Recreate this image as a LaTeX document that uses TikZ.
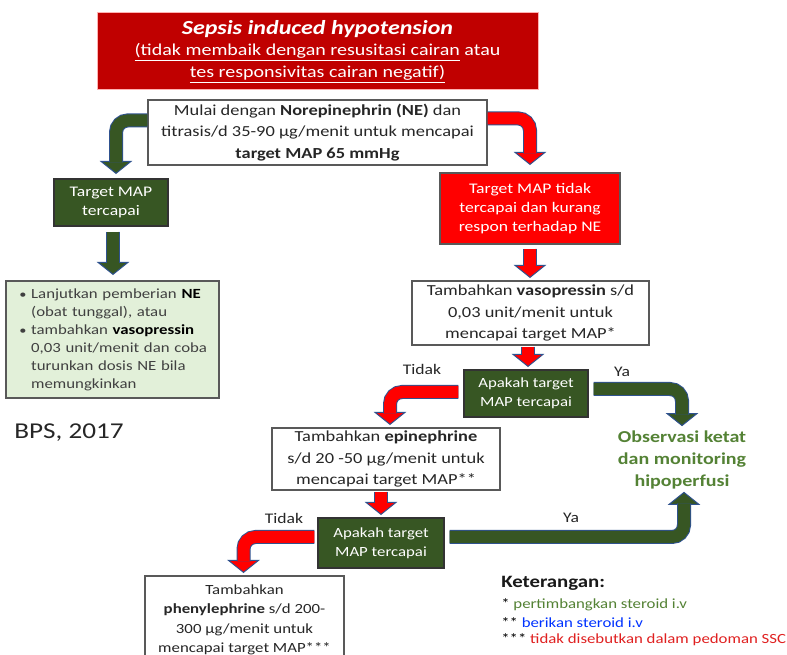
\documentclass[tikz,border=0pt]{standalone}
\usepackage{fontspec}
\setmainfont{Carlito}[FakeStretch=1.2]
\usepackage{xcolor}
\usepackage{tikz}
\usetikzlibrary{calc}
\definecolor{titlered}{RGB}{192,0,0}
\definecolor{darkgreen}{RGB}{55,86,35}
\definecolor{midgreen}{RGB}{84,130,53}
\definecolor{lightgreen}{RGB}{226,240,217}
\definecolor{brightred}{RGB}{255,0,0}
\definecolor{arrowedge}{RGB}{47,82,143}
\definecolor{boxedge}{RGB}{89,89,89}
\definecolor{notered}{RGB}{224,32,32}
\definecolor{noteblue}{RGB}{0,51,255}
\newcommand{\bul}{\hspace*{4pt}{\small\textbullet}\ }
\newcommand{\bulgap}{\hspace*{4pt}\phantom{{\small\textbullet}\ }}

\begin{document}
\begin{tikzpicture}[x=0.75pt,y=0.75pt,every node/.style={inner sep=0pt,align=center},
  whitebox/.style={draw=boxedge,line width=0.9pt,fill=white,text=black!85,font=\fontsize{11.5}{16}\selectfont},
  greenbox/.style={draw=black!80,line width=0.9pt,fill=darkgreen,text=white,font=\fontsize{11}{14}\selectfont},
  redbox/.style={draw=boxedge,line width=0.9pt,fill=brightred,text=white,font=\fontsize{11}{14}\selectfont},
  tag/.style={font=\fontsize{11}{13}\selectfont,text=black!85},
  note/.style={anchor=west,font=\fontsize{10.5}{13}\selectfont},
  gshaft/.style={line width=9pt,draw=darkgreen,rounded corners=9pt,preaction={draw=arrowedge,line width=10.5pt}},
  rshaft/.style={gshaft,draw=brightred},
  ghead/.style={fill=darkgreen,draw=arrowedge,line width=0.75pt},
  rhead/.style={fill=brightred,draw=arrowedge,line width=0.75pt},
  arrowhd/.pic={\filldraw[pic actions] (0,0)--(-15,12)--(15,12)--cycle;}]
\useasboundingbox (0,0) rectangle (787,655);
\fill[white] (0,0) rectangle (787,655);

\node[fill=titlered,draw=red!30,line width=0.75pt,text=white,font=\fontsize{12.5}{16}\selectfont,minimum width=330.75pt,minimum height=57.75pt](sepsis) at (317.5,603.5){{\fontsize{15}{16}\selectfont\bfseries\itshape Sepsis induced hypotension}\\\underline{(tidak membaik dengan resusitasi cairan} atau\\\underline{tes responsivitas cairan negatif)}};
\node[whitebox,minimum width=254.25pt,minimum height=48.75pt](ne) at (317.5,522.5){Mulai dengan \textbf{Norepinephrin (NE)} dan\\titrasis/d 35-90 µg/menit untuk mencapai\\\textbf{target MAP 65 mmHg}};
\node[greenbox,minimum width=85.5pt,minimum height=35.25pt](tmok) at (111,452.5){Target MAP\\tercapai};
\node[draw=boxedge,line width=0.9pt,fill=lightgreen,text=black!75,align=left,inner xsep=6pt,text width=147.75pt,minimum height=87.75pt,font=\fontsize{10.5}{13.5}\selectfont](lanjut) at (112.5,339.5-24){\bul Lanjutkan pemberian \textbf{\color{black}NE}\\\bulgap(obat tunggal), atau\\\bul tambahkan \textbf{\color{black}vasopressin}\\\bulgap 0,03 unit/menit dan coba\\\bulgap turunkan dosis NE bila\\\bulgap memungkinkan};
\node[anchor=west,text=black!85,font=\fontsize{17}{20}\selectfont](bps) at (14,222){BPS, 2017};
\node[redbox,minimum width=135pt,minimum height=53.25pt](tmno) at (530,446.5){Target MAP tidak\\tercapai dan kurang\\respon terhadap NE};
\node[whitebox,minimum width=177.75pt,minimum height=48pt](vaso) at (530.5,342){Tambahkan \textbf{vasopressin} s/d\\0,03 unit/menit untuk\\mencapai target MAP*};
\node[greenbox,font=\fontsize{10.5}{14}\selectfont,minimum width=93pt,minimum height=35.25pt](dec1) at (526,261.5){Apakah target\\MAP tercapai};
\node[whitebox,minimum width=171pt,minimum height=46.5pt](epi) at (386,196){Tambahkan \textbf{epinephrine}\\s/d 20 -50 µg/menit untuk\\mencapai target MAP**};
\node[text=midgreen,font=\fontsize{12.5}{16.5}\selectfont\bfseries](obs) at (682,195){Observasi ketat\\dan monitoring\\hipoperfusi};
\node[greenbox,font=\fontsize{10.5}{14}\selectfont,minimum width=94.5pt,minimum height=37.5pt](dec2) at (381,112){Apakah target\\MAP tercapai};
\node[whitebox,font=\fontsize{10.5}{14.5}\selectfont,minimum width=149.25pt,minimum height=66pt](phen) at (244.5,35){Tambahkan\\\textbf{phenylephrine} s/d 200-\\300 µg/menit untuk\\mencapai target MAP***};
\node[tag](tidak1) at (422,286){Tidak};
\node[tag](ya1) at (622,283){Ya};
\node[tag](tidak2) at (284,137){Tidak};
\node[tag](ya2) at (571,137){Ya};
\node[anchor=west,text=black!90,font=\fontsize{13}{16}\selectfont\bfseries](ket) at (501,72){Keterangan:};
\node[note](note1) at (501,50){* \textcolor{midgreen}{pertimbangkan steroid i.v}};
\node[note](note2) at (501,32){** \textcolor{noteblue}{berikan steroid i.v}};
\node[note](note3) at (501,15){*** \textcolor{notered}{tidak disebutkan dalam pedoman SSC}};

% arrows: heads first, shafts on top
\pic[ghead] at ($(tmok.north)+(5,5)$) {arrowhd};
\draw[gshaft] ($(ne.north west)+(0,-21)$) -| ($(tmok.north)+(5,16)$);
\pic[ghead] at ($(tmok.south |- lanjut.north)+(2,6)$) {arrowhd};
\draw[gshaft] ($(tmok.south)+(2,-5)$) -- ($(tmok.south |- lanjut.north)+(2,17)$);
\pic[rhead] at ($(tmno.north)+(0,8)$) {arrowhd};
\draw[rshaft] ($(ne.north east)+(0,-19)$) -| ($(tmno.north)+(0,19)$);
\pic[rhead] at ($(tmno.south |- vaso.north)+(0,3)$) {arrowhd};
\draw[rshaft] ($(tmno.south)+(0,-4)$) -- ($(tmno.south |- vaso.north)+(0,14)$);
\pic[rhead] at ($(dec1.north)+(2,3)$) {arrowhd};
\draw[rshaft] ($(vaso.south -| dec1.north)+(2,-1)$) -- ($(dec1.north)+(2,14)$);
\pic[rhead] at ($(epi.north)+(4,3)$) {arrowhd};
\draw[rshaft] ($(dec1.west)+(-5,1.5)$) -| ($(epi.north)+(4,14)$);
\pic[ghead] at ($(obs.north)+(0,5)$) {arrowhd};
\draw[gshaft] ($(dec1.east)+(5,4.5)$) -| ($(obs.north)+(0,16)$);
\pic[rhead] at ($(dec2.north)+(0,3)$) {arrowhd};
\draw[rshaft] ($(epi.south -| dec2.north)+(0,-1)$) -- ($(dec2.north)+(0,14)$);
\pic[rhead] at ($(phen.north)+(-1,3)$) {arrowhd};
\draw[rshaft] ($(dec2.west)+(-3,6)$) -| ($(phen.north)+(-1,14)$);
\pic[ghead,rotate=180] at ($(obs.south)+(2,-3)$) {arrowhd};
\draw[gshaft] ($(dec2.east)+(5,6)$) -| ($(obs.south)+(2,-14)$);
\end{tikzpicture}
\end{document}
